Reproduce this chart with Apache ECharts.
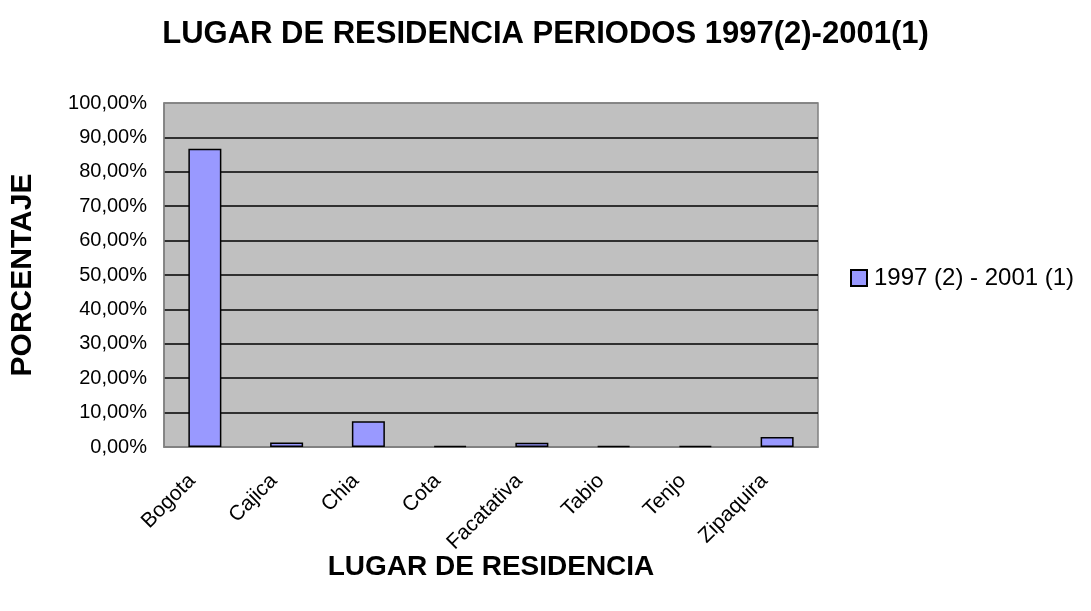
<!DOCTYPE html>
<html>
<head>
<meta charset="utf-8">
<script src="https://cdn.jsdelivr.net/npm/echarts@6/dist/echarts.min.js"></script>
<style>
  html, body { margin: 0; padding: 0; background: #fff; }
  #chart { width: 1091px; height: 611px; }
</style>
</head>
<body>
<div id="chart"></div>
<script>
// lugares de residencia y porcentajes
const lugares = ['Bogota', 'Cajica', 'Chia', 'Cota', 'Facatativa', 'Tabio', 'Tenjo', 'Zipaquira'];
const porcentajes = [86.7, 1.3, 7.5, 0.3, 1.2, 0.3, 0.3, 2.9];
const serieNombre = '1997 (2) - 2001 (1)';

const chart = echarts.init(document.getElementById('chart'));
const font = 'Liberation Sans, Arial, sans-serif';

chart.setOption({
  animation: false,
  title: {
    text: 'LUGAR DE RESIDENCIA PERIODOS 1997(2)-2001(1)',
    left: 'center',
    top: 14,
    textStyle: { fontFamily: font, fontSize: 31, fontWeight: 'bold', color: '#000' }
  },
  legend: {
    data: [serieNombre],
    left: 850,
    top: 266,
    padding: 0,
    icon: 'rect',
    itemWidth: 16,
    itemHeight: 16,
    textStyle: { fontFamily: font, fontSize: 24, color: '#000', padding: [0, 0, 0, 2] }
  },
  grid: {
    left: 164,
    right: 273,
    top: 103,
    bottom: 164,
    show: true,
    backgroundColor: '#C0C0C0',
    borderColor: '#808080',
    borderWidth: 1.5
  },
  xAxis: {
    type: 'category',
    data: lugares,
    name: 'LUGAR DE RESIDENCIA',
    nameLocation: 'middle',
    nameGap: 106,
    nameMoveOverlap: false,
    nameTextStyle: { fontFamily: font, fontSize: 28, fontWeight: 'bold', color: '#000' },
    axisLine: { lineStyle: { color: '#808080', width: 1.5 } },
    axisTick: { show: false },
    axisLabel: {
      rotate: 45, fontFamily: font, fontSize: 21, color: '#000', margin: 18,
      padding: [0, 18, 0, 0]
    }
  },
  yAxis: {
    type: 'value',
    min: 0,
    max: 100,
    interval: 10,
    name: 'PORCENTAJE',
    nameLocation: 'middle',
    nameGap: 126,
    nameTextStyle: { fontFamily: font, fontSize: 30, fontWeight: 'bold', color: '#000' },
    axisLine: { show: true, lineStyle: { color: '#808080', width: 1.5 } },
    axisTick: { show: false },
    axisLabel: {
      fontFamily: font, fontSize: 20, color: '#000', margin: 17,
      formatter: v => v.toFixed(2).replace('.', ',') + '%'
    },
    splitLine: {
      lineStyle: {
        color: ['#808080', '#000', '#000', '#000', '#000', '#000', '#000', '#000', '#000', '#000', '#808080'],
        width: 1.5
      }
    }
  },
  series: [{
    name: serieNombre,
    type: 'bar',
    data: porcentajes,
    barWidth: 33,
    itemStyle: { color: '#9999FF', borderColor: '#000', borderWidth: 1.5 }
  }]
});
</script>
</body>
</html>
